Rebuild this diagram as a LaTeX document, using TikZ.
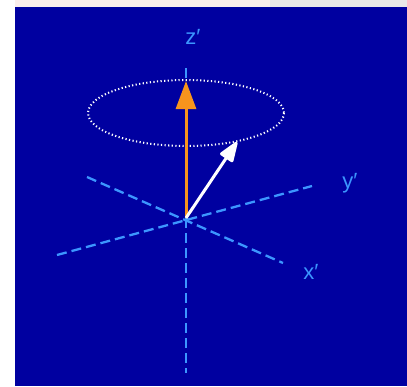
\documentclass[tikz,border=0pt]{standalone}
\usepackage{fontspec}
\setmainfont{Liberation Sans}
\usetikzlibrary{arrows.meta}
\definecolor{bg}{RGB}{0,0,160}
\definecolor{axis}{RGB}{60,150,255}
\definecolor{orng}{RGB}{247,148,29}
\definecolor{topstrip}{RGB}{250,238,236}
\definecolor{topgrey}{RGB}{232,232,232}
\tikzset{
  axisline/.style={axis, line width=2.3pt, dash pattern=on 10pt off 5pt},
  lbl/.style={text=axis, font=\fontsize{22}{24}\selectfont, inner sep=0pt}
}
\begin{document}
\begin{tikzpicture}[x=1pt,y=-1pt]
\useasboundingbox (0,0) rectangle (407,386);
\fill[white] (0,0) rectangle (407,386);
\fill[topstrip] (15,0) rectangle (270,7);
\fill[topgrey] (270,0) rectangle (407,7);
\fill[bg] (15,7) rectangle (407,386);
\coordinate (O) at (186,218);
\coordinate (ztop) at (186,68);
\coordinate (zbot) at (186,373);
\coordinate (xa) at (87,177);
\coordinate (xb) at (283,263);
\coordinate (ya) at (57,255);
\coordinate (yb) at (312,186);
\draw[axisline] (ztop) -- (zbot);
\draw[axisline] (xa) -- (xb);
\draw[axisline] (ya) -- (yb);
\node[lbl] (zl) at (193,37) {z′};
\node[lbl] (yl) at (350,183) {y′};
\node[lbl] (xl) at (311,272) {x′};
\draw[white, line width=2pt, dash pattern=on 1.2pt off 2.4pt] (186,113) ellipse [x radius=98, y radius=33];
\coordinate (ztip) at (186,81);
\coordinate (mtip) at (237,142);
\draw[orng, line width=3pt, -{Triangle[width=20pt,length=28pt]}] (O) -- (ztip);
\draw[white, line width=3pt, -{Triangle[width=16pt,length=23pt,round]}] (O) -- (mtip);
\end{tikzpicture}
\end{document}
